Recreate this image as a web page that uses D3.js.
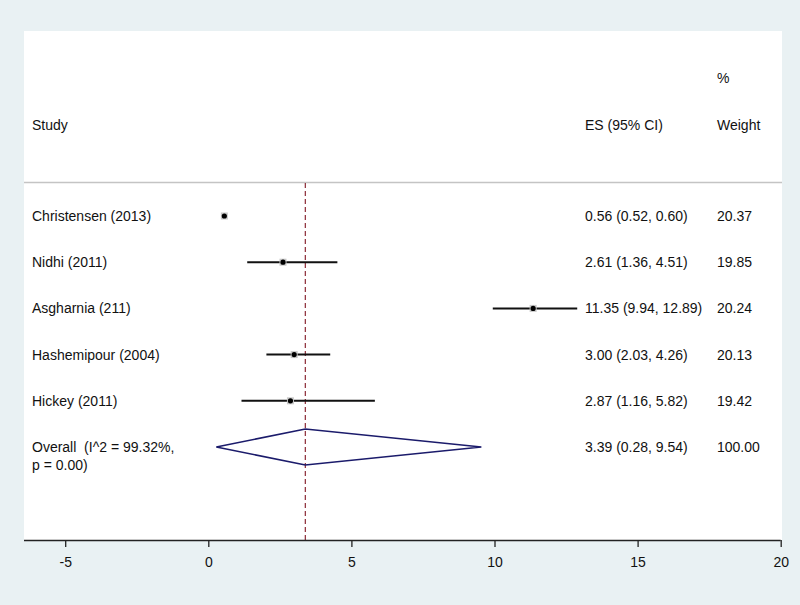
<!DOCTYPE html>
<html><head><meta charset="utf-8">
<script src="https://cdn.jsdelivr.net/npm/d3@7"></script>
<style>body{margin:0;background:#e9f1f3;} svg text{font-family:"Liberation Sans",Arial,sans-serif;font-size:14px;fill:#111;white-space:pre;}</style>
</head><body>
<svg id="c" width="800" height="605"></svg>
<script>
const studies = ["Christensen (2013)","Nidhi (2011)","Asgharnia (211)","Hashemipour (2004)","Hickey (2011)"];
const es = [0.56, 2.61, 11.35, 3.00, 2.87];
const lo = [0.52, 1.36, 9.94, 2.03, 1.16];
const hi = [0.60, 4.51, 12.89, 4.26, 5.82];
const weights = ["20.37","19.85","20.24","20.13","19.42"];
const esLabels = ["0.56 (0.52, 0.60)","2.61 (1.36, 4.51)","11.35 (9.94, 12.89)","3.00 (2.03, 4.26)","2.87 (1.16, 5.82)"];
const overall = {es:3.39, lo:0.28, hi:9.54, label:"3.39 (0.28, 9.54)", weight:"100.00", line1:"Overall  (I^2 = 99.32%,", line2:"p = 0.00)"};
const xTicks = [-5,0,5,10,15,20];

const svg = d3.select("#c");
const panel = {x0:24, x1:782, y0:31, y1:540};
svg.append("rect").attr("x",panel.x0).attr("y",panel.y0).attr("width",panel.x1-panel.x0).attr("height",panel.y1-panel.y0).attr("fill","#fff");

const x = d3.scaleLinear().domain([0,20]).range([208.3,780.7]);
const rows = studies.concat(["Overall"]);
const y = d3.scalePoint().domain(rows).range([216,447]);

// header
svg.append("text").attr("x",32).attr("y",125).attr("dy","0.35em").text("Study");
svg.append("text").attr("x",585).attr("y",125).attr("dy","0.35em").text("ES (95% CI)");
svg.append("text").attr("x",717).attr("y",125).attr("dy","0.35em").text("Weight");
svg.append("text").attr("x",717).attr("y",78).attr("dy","0.35em").text("%");
svg.append("line").attr("x1",panel.x0).attr("x2",panel.x1).attr("y1",182.5).attr("y2",182.5).attr("stroke","#c4c4c4").attr("stroke-width",1.5);

// reference line
svg.append("line").attr("x1",x(overall.es)).attr("x2",x(overall.es)).attr("y1",183).attr("y2",panel.y1)
  .attr("stroke","#8b2a35").attr("stroke-width",1.2).attr("stroke-dasharray","5,3");

// studies
const g = svg.append("g");
studies.forEach((s,i)=>{
  const yy = y(s);
  g.append("line").attr("x1",x(lo[i])).attr("x2",x(hi[i])).attr("y1",yy).attr("y2",yy).attr("stroke","#111").attr("stroke-width",2);
  g.append("rect").attr("x",x(es[i])-3.5).attr("y",yy-3.5).attr("width",7).attr("height",7).attr("fill","#c8c8c8");
  g.append("circle").attr("cx",x(es[i])).attr("cy",yy).attr("r",2.6).attr("fill","#000");
  g.append("text").attr("x",32).attr("y",yy).attr("dy","0.35em").text(s);
  g.append("text").attr("x",585).attr("y",yy).attr("dy","0.35em").text(esLabels[i]);
  g.append("text").attr("x",717).attr("y",yy).attr("dy","0.35em").text(weights[i]);
});

// overall
const yo = y("Overall");
svg.append("polygon").attr("points",[[x(overall.lo),yo],[x(overall.es),yo-18],[x(overall.hi),yo],[x(overall.es),yo+18]].map(p=>p.join(",")).join(" "))
  .attr("fill","none").attr("stroke","#1b1b6b").attr("stroke-width",1.5);
svg.append("text").attr("x",32).attr("y",yo).attr("dy","0.35em").text(overall.line1);
svg.append("text").attr("x",32).attr("y",yo+18).attr("dy","0.35em").text(overall.line2);
svg.append("text").attr("x",585).attr("y",yo).attr("dy","0.35em").text(overall.label);
svg.append("text").attr("x",717).attr("y",yo).attr("dy","0.35em").text(overall.weight);

// axis
const ax = svg.append("g").attr("transform",`translate(0,${panel.y1})`)
  .call(d3.axisBottom(x.copy().domain([-5,20]).range([x(-5),x(20)])).tickValues(xTicks).tickFormat(d=>String(d)).tickSize(7).tickPadding(10).tickSizeOuter(0));
ax.select(".domain").remove();
ax.append("line").attr("x1",panel.x0).attr("x2",x(20)).attr("y1",0.5).attr("y2",0.5).attr("stroke","#222").attr("stroke-width",1.3);
ax.selectAll(".tick line").attr("stroke","#222").attr("stroke-width",1.3);
ax.selectAll(".tick text").style("font-size","14px").style("font-family","'Liberation Sans',Arial,sans-serif").attr("fill","#111");
</script>
</body></html>
